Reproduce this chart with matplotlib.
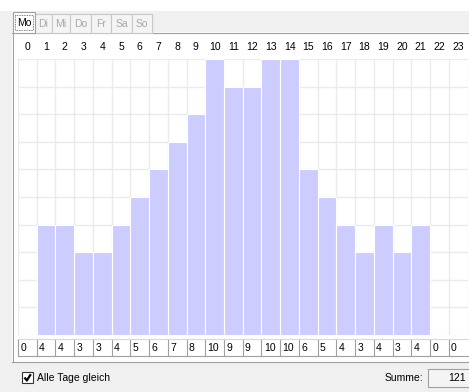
import matplotlib
matplotlib.use("Agg")
import matplotlib.pyplot as plt
from matplotlib.patches import Rectangle
from matplotlib.transforms import blended_transform_factory

# hourly counts for Monday (0..23 h)
hours = list(range(24))
counts = [0, 4, 4, 3, 3, 4, 5, 6, 7, 8, 10, 9, 9, 10, 10, 6, 5, 4, 3, 4, 3, 4, 0, 0]
day_tabs = ["Mo", "Di", "Mi", "Do", "Fr", "Sa", "So"]
check_label = "Alle Tage gleich"
sum_label = "Summe:"

W, H = 469, 392
BG = "#f0f0f0"
BAR = "#ccccff"
GRID = "#ebebeb"
BORDER = "#a0a0a0"

plt.rcParams["font.family"] = ["Liberation Sans", "DejaVu Sans"]

fig = plt.figure(figsize=(W / 100, H / 100), dpi=100, facecolor=BG)


def box(x0, y0, x1, y1):
    # pixel box (origin top-left) -> figure fraction rect
    return [x0 / W, 1 - y1 / H, (x1 - x0) / W, (y1 - y0) / H]


# background canvas in pixel coordinates
bg = fig.add_axes([0, 0, 1, 1], zorder=0)
bg.set_xlim(0, W)
bg.set_ylim(H, 0)
bg.axis("off")

bg.add_patch(Rectangle((0, 0), W, 11, facecolor="white", edgecolor="none"))
# white page under the tabs
bg.add_patch(Rectangle((12, 32), W, 330, facecolor="white", edgecolor="none"))
bg.plot([12, W], [32.5, 32.5], color=BORDER, lw=0.8)
bg.plot([12.5, 12.5], [32, 362], color=BORDER, lw=0.8)
bg.plot([12, W], [361.5, 361.5], color=BORDER, lw=0.8)

# day tabs
tab_edges = [13, 35, 52, 70, 91, 111, 132, 152]
for i, name in enumerate(day_tabs):
    x0, x1 = tab_edges[i], tab_edges[i + 1]
    if i == 0:
        bg.add_patch(Rectangle((x0, 12), x1 - x0, 21, facecolor="white",
                               edgecolor=BORDER, lw=0.8, zorder=3))
        bg.add_patch(Rectangle((x0 + 2, 14.5), x1 - x0 - 4, 15, facecolor="none",
                               edgecolor="#555555", lw=0.6, ls=(0, (1, 1)), zorder=4))
        bg.text((x0 + x1) / 2, 22.5, name, ha="center", va="center",
                fontsize=7.5, color="black", zorder=5)
    else:
        bg.add_patch(Rectangle((x0, 14), x1 - x0, 18.5, facecolor="#f4f4f4",
                               edgecolor="#c8c8c8", lw=0.8, zorder=2))
        bg.text((x0 + x1) / 2, 23.5, name, ha="center", va="center",
                fontsize=7.5, color="#a8a8a8", zorder=3)

# main histogram
ax = fig.add_axes(box(18, 59, 467.5, 335), zorder=1)
ax.set_xlim(0, 24)
ax.set_ylim(0, 10)
ax.set_xticks(range(25))
ax.set_yticks(range(11))
ax.grid(True, color=GRID, lw=1)
ax.set_axisbelow(True)
ax.tick_params(length=0, labelbottom=False, labelleft=False)
for s in ax.spines.values():
    s.set_visible(False)
ax.bar(hours, counts, width=1, align="edge", color=BAR, edgecolor="white", lw=0.8)

# hour numbers above the plot
top = blended_transform_factory(ax.transData, bg.transData)
for h in hours:
    bg.text(h + 0.5, 47, str(h), transform=top, ha="center", va="center",
            fontsize=7.5, color="black")

# value row under the plot
row = fig.add_axes(box(18, 339, 467.5, 356), zorder=1)
row.set_xlim(0, 24)
row.set_ylim(0, 1)
row.set_xticks([])
row.set_yticks([])
for s in row.spines.values():
    s.set_color(BORDER)
    s.set_linewidth(0.8)
row.spines["right"].set_visible(False)
row.spines["top"].set_color("#d8d8d8")
row.vlines(hours[1:], 0, 1, color=BORDER, lw=0.8)
for h, c in zip(hours, counts):
    row.text(h + 0.12, 0.45, str(c), ha="left", va="center", fontsize=7.5)

# checkbox and sum box
bg.add_patch(Rectangle((22, 372), 11, 11, facecolor="white", edgecolor="#333333", lw=0.8))
bg.plot([24.5, 26.8, 30.8], [377.5, 380.5, 374.2], color="black", lw=1.6,
        solid_capstyle="butt")
bg.text(37, 378, check_label, ha="left", va="center", fontsize=7.5)
bg.text(423, 378, sum_label, ha="right", va="center", fontsize=7.5)
bg.add_patch(Rectangle((428, 369), 50, 18, facecolor="#f4f4f4", edgecolor=BORDER, lw=0.8))
bg.text(466, 378, str(sum(counts)), ha="right", va="center", fontsize=7.5)

fig.savefig("out.png", dpi=100, facecolor=BG)
